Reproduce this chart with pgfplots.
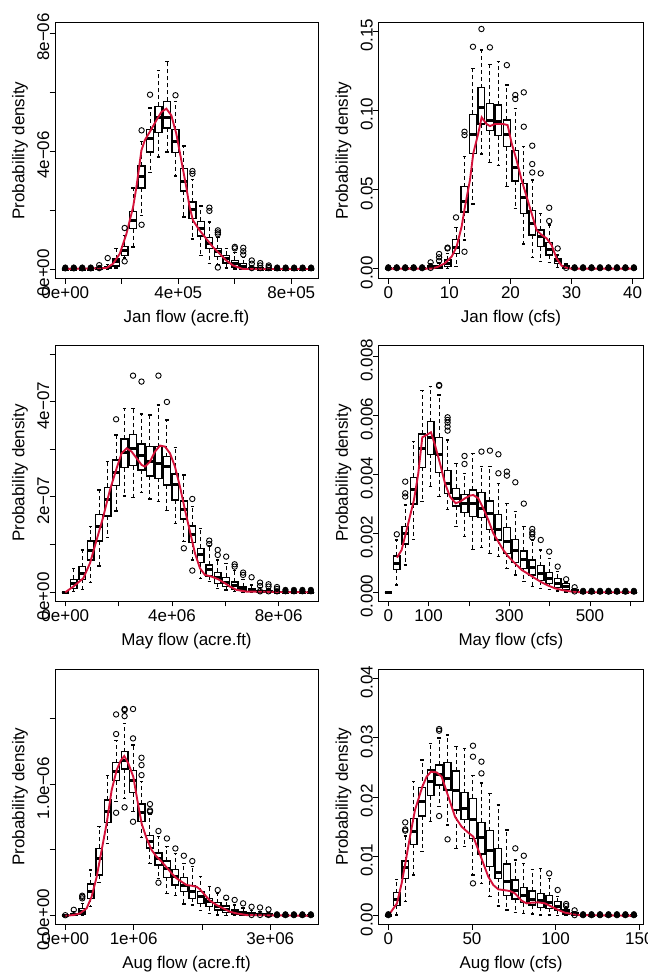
\documentclass[border=0pt]{standalone}
\usepackage{pgfplots}
\pgfplotsset{compat=1.18}
\usepgfplotslibrary{statistics}
\usepackage{fontspec}
\setmainfont{Liberation Sans}
\definecolor{dens}{RGB}{212,18,58}
\newcommand{\fs}{\fontsize{17bp}{20bp}\selectfont}
\newcommand{\bx}[7]{\addplot[bxs, boxplot prepared={draw direction=y, draw position=#1, lower whisker=#2, lower quartile=#3, median=#4, upper quartile=#5, upper whisker=#6}] coordinates {#7};}
\newcommand{\bxz}[3]{\addplot[bxs, mark=*, mark size=2.8bp, mark options={solid, fill=black, line width=0.5bp}, boxplot prepared={draw direction=y, draw position=#1, lower whisker=0, lower quartile=0, median=0, upper quartile=0, upper whisker=0}] coordinates {(0,#2)(0,#3)};}
\pgfplotsset{
  bxs/.style={black, line width=1.4bp, solid, mark=o, mark size=2.7bp,
    mark options={solid, line width=0.9bp, fill=none},
    boxplot/draw direction=y,
    boxplot/every median/.style={line width=3bp},
    boxplot/draw/lower whisker/.code={%
      \draw[dash pattern=on 4bp off 3bp, line width=1bp]
        (boxplot box cs:\pgfplotsboxplotvalue{lower quartile},0.5) --
        (boxplot box cs:\pgfplotsboxplotvalue{lower whisker},0.5);
      \draw[solid, line width=1.4bp]
        (boxplot whisker cs:\pgfplotsboxplotvalue{lower whisker},0) --
        (boxplot whisker cs:\pgfplotsboxplotvalue{lower whisker},1);},
    boxplot/draw/upper whisker/.code={%
      \draw[dash pattern=on 4bp off 3bp, line width=1bp]
        (boxplot box cs:\pgfplotsboxplotvalue{upper quartile},0.5) --
        (boxplot box cs:\pgfplotsboxplotvalue{upper whisker},0.5);
      \draw[solid, line width=1.4bp]
        (boxplot whisker cs:\pgfplotsboxplotvalue{upper whisker},0) --
        (boxplot whisker cs:\pgfplotsboxplotvalue{upper whisker},1);},
  },
  dline/.style={color=dens, line width=1.9bp, no marks, solid},
  rpanel/.style={scale only axis, axis line style={line width=0.9bp},
    tick align=outside, tick pos=left, major tick length=5.5bp,
    tick style={line width=0.9bp, black},
    xticklabel style={anchor=north, inner sep=0pt, font=\fs, yshift=-3bp},
    yticklabel style={rotate=90, anchor=south, inner sep=0pt, font=\fs, xshift=-4bp},
    label style={font=\fs},
    every axis x label/.style={at={(axis description cs:0.5,0)}, yshift=-40bp, anchor=center},
    every axis y label/.style={at={(axis description cs:0,0.5)}, xshift=-35bp, rotate=90, anchor=center},
    ylabel={Probability density}},
}
\begin{document}
\begin{tikzpicture}[font=\fs]
\path[use as bounding box] (0,0) rectangle (648bp,976bp);

% ---------------- Jan acre.ft  (x in 1e5, y in 1e-6)
\begin{axis}[rpanel, at={(55bp,697.7bp)}, anchor=south west, width=263bp, height=255.6bp,
  xmin=-0.365, xmax=8.945, ymin=-0.315, ymax=8.35,
  xtick={0,2,4,6,8}, xticklabels={0e+00,,4e+05,,8e+05},
  ytick={0,2,4,6,8}, yticklabels={0e+00,,4e−06,,8e−06},
  xlabel={Jan flow (acre.ft)},
  boxplot/box extend=0.24, boxplot/whisker extend=0.12]
\bxz{0}{0.02}{0.05}
\bxz{0.3}{0.02}{0.05}
\bxz{0.6}{0.02}{0.05}
\bxz{0.9}{0.02}{0.05}
\bx{1.2}{0}{0}{0.02}{0.06}{0.10}{(0,0.13)(0,0.03)}
\bx{1.5}{0}{0.01}{0.04}{0.08}{0.15}{(0,0.37)}
\bx{1.8}{0.03}{0.10}{0.24}{0.34}{0.69}{}
\bx{2.1}{0.37}{0.45}{0.63}{0.77}{1.14}{(0,1.39)(0,0.26)}
\bx{2.4}{0.75}{1.37}{1.63}{1.94}{2.75}{}
\bx{2.7}{1.82}{2.75}{3.12}{3.49}{4.33}{(0,4.70)(0,1.50)}
\bx{3.0}{3.27}{3.97}{4.44}{4.72}{5.46}{(0,5.91)}
\bx{3.3}{3.80}{4.62}{5.13}{5.51}{6.73}{}
\bx{3.6}{3.97}{4.78}{5.12}{5.68}{7.04}{}
\bx{3.9}{3.15}{3.94}{4.33}{4.72}{5.68}{(0,5.89)}
\bx{4.2}{1.76}{2.64}{2.95}{3.40}{4.17}{}
\bx{4.5}{1.02}{1.71}{2.01}{2.27}{3.04}{(0,3.32)(0,3.23)}
\bx{4.8}{0.46}{1.12}{1.37}{1.62}{2.14}{}
\bx{5.1}{0.18}{0.69}{0.86}{1.06}{1.59}{(0,2.08)(0,1.97)}
\bx{5.4}{0.15}{0.43}{0.58}{0.69}{1.06}{(0,1.31)(0,1.24)(0,1.18)(0,0.05)}
\bx{5.7}{0.03}{0.21}{0.35}{0.46}{0.69}{}
\bx{6.0}{0}{0.07}{0.18}{0.29}{0.55}{(0,0.75)(0,0.70)}
\bx{6.3}{0}{0}{0.07}{0.18}{0.40}{(0,0.72)(0,0.60)(0,0.49)}
\bx{6.6}{0}{0}{0.02}{0.05}{0.10}{(0,0.29)(0,0.18)(0,0.03)}
\bx{6.9}{0}{0}{0}{0.03}{0.06}{(0,0.20)(0,0.12)(0,0.03)}
\bx{7.2}{0}{0}{0}{0.02}{0.04}{(0,0.12)(0,0.07)(0,0.03)}
\bxz{7.5}{0.02}{0.05}
\bxz{7.8}{0.02}{0.05}
\bxz{8.1}{0.02}{0.05}
\bxz{8.4}{0.02}{0.05}
\bxz{8.7}{0.02}{0.05}
\addplot[dline] coordinates {(0,0) (1.459,0.034) (1.694,0.181) (1.929,0.520) (2.165,1.198) (2.400,2.102) (2.518,2.780) (2.694,4.023) (2.812,4.362) (2.988,4.644) (3.224,5.040) (3.400,5.322) (3.576,5.435) (3.753,5.209) (3.929,4.588) (4.106,3.684) (4.282,2.780) (4.400,2.102) (4.518,1.650) (4.753,1.311) (4.988,1.028) (5.224,0.746) (5.459,0.520) (5.694,0.294) (5.929,0.124) (6.282,0) (8.659,0)};
\end{axis}

% ---------------- Jan cfs  (y in 0.01)
\begin{axis}[rpanel, at={(378.5bp,697.7bp)}, anchor=south west, width=265bp, height=255.6bp,
  xmin=-1.60, xmax=41.77, ymin=-0.606, ymax=15.54,
  xtick={0,10,20,30,40}, xticklabels={0,10,20,30,40},
  ytick={0,5,10,15}, yticklabels={0.00,0.05,0.10,0.15},
  xlabel={Jan flow (cfs)},
  boxplot/box extend=1.1, boxplot/whisker extend=0.55]
\bxz{0}{0.03}{0.09}
\bxz{1.386}{0.03}{0.09}
\bxz{2.772}{0.03}{0.09}
\bxz{4.158}{0.03}{0.09}
\bxz{5.544}{0.03}{0.09}
\bx{6.93}{0}{0}{0.06}{0.19}{0.3}{(0,0.4)(0,0.05)}
\bx{8.316}{0}{0}{0.06}{0.19}{0.35}{(0,0.93)(0,0.72)(0,0.5)}
\bx{9.702}{0.02}{0.13}{0.34}{0.55}{0.97}{(0,1.33)(0,1.28)}
\bx{11.088}{0.13}{0.97}{1.35}{1.85}{2.59}{(0,3.24)}
\bx{12.474}{1.81}{3.58}{4.25}{5.18}{7.07}{(0,8.65)(0,8.44)(0,1.07)}
\bx{13.86}{4.08}{7.26}{8.48}{9.75}{12.65}{(0,14.02)}
\bx{15.246}{7.24}{9.14}{10.17}{11.43}{13.81}{(0,15.14)}
\bx{16.632}{6.72}{8.72}{9.39}{10.44}{12.91}{(0,13.98)}
\bx{18.018}{6.51}{8.40}{9.28}{10.34}{13.07}{}
\bx{19.404}{5.18}{7.71}{8.48}{9.39}{11.60}{(0,12.86)}
\bx{20.79}{3.81}{5.54}{6.38}{7.45}{10.13}{(0,10.97)(0,10.72)}
\bx{22.176}{1.56}{3.49}{4.51}{5.39}{7.71}{(0,11.14)(0,8.97)}
\bx{23.562}{0.69}{2.13}{2.86}{3.66}{5.60}{(0,7.77)(0,6.61)(0,6.08)}
\bx{24.948}{0.44}{1.39}{2.02}{2.44}{3.49}{(0,6.02)}
\bx{26.334}{0.40}{0.86}{1.24}{1.66}{2.76}{(0,3.85)(0,3.01)}
\bx{27.72}{0.06}{0.34}{0.51}{0.65}{0.86}{(0,1.28)}
\bx{29.106}{0}{0}{0.06}{0.19}{0.3}{(0,0.05)}
\bxz{30.492}{0.03}{0.09}
\bxz{31.878}{0.03}{0.09}
\bxz{33.264}{0.03}{0.09}
\bxz{34.65}{0.03}{0.09}
\bxz{36.036}{0.03}{0.09}
\bxz{37.422}{0.03}{0.09}
\bxz{38.808}{0.03}{0.09}
\bxz{40.194}{0.03}{0.09}
\addplot[dline] coordinates {(0,0) (7.09,0) (8.18,0.13) (9.27,0.34) (10.37,0.76) (11.18,1.39) (12.00,2.65) (12.55,3.92) (13.37,5.60) (13.91,7.28) (14.73,8.55) (15.28,9.56) (16.09,9.14) (16.64,9.01) (17.46,9.14) (18.00,9.14) (18.82,9.14) (19.53,9.07) (20.19,7.92) (21.00,6.86) (21.82,5.60) (22.64,4.55) (23.46,3.49) (24.28,2.44) (25.10,2.13) (25.91,1.92) (26.73,1.49) (27.55,0.65) (28.37,0.19) (29.19,0.06) (30.01,0) (40.26,0)};
\end{axis}

% ---------------- May acre.ft (x in 1e6, y in 1e-7)
\begin{axis}[rpanel, at={(55bp,375bp)}, anchor=south west, width=263bp, height=256bp,
  xmin=-0.386, xmax=9.475, ymin=-0.183, ymax=5.188,
  xtick={0,2,4,6,8}, xticklabels={0e+00,,4e+06,,8e+06},
  ytick={0,1,2,3,4,5}, yticklabels={0e+00,,2e−07,,4e−07,},
  xlabel={May flow (acre.ft)},
  boxplot/box extend=0.254, boxplot/whisker extend=0.127]
\bx{0}{0}{0}{0}{0}{0}{}
\bx{0.3175}{0.014}{0.084}{0.189}{0.273}{0.503}{}
\bx{0.635}{0.063}{0.273}{0.399}{0.538}{0.888}{}
\bx{0.9525}{0.210}{0.678}{0.867}{1.077}{1.378}{}
\bx{1.27}{0.552}{1.077}{1.378}{1.636}{2.147}{}
\bx{1.5875}{1.154}{1.601}{1.937}{2.203}{2.741}{}
\bx{1.905}{1.706}{2.238}{2.510}{2.776}{3.301}{(0,3.629)}
\bx{2.2225}{2.021}{2.615}{2.937}{3.217}{3.860}{}
\bx{2.54}{1.993}{2.657}{3.007}{3.315}{3.860}{(0,4.545)}
\bx{2.8575}{2.098}{2.566}{2.860}{3.112}{3.741}{(0,4.420)}
\bx{3.175}{1.958}{2.441}{2.741}{3.056}{3.720}{}
\bx{3.4925}{1.902}{2.392}{2.692}{3.056}{3.930}{(0,4.545)}
\bx{3.81}{1.713}{2.252}{2.636}{2.846}{3.615}{(0,3.993)}
\bx{4.1275}{1.448}{1.937}{2.252}{2.483}{3.042}{}
\bx{4.445}{1.063}{1.538}{1.741}{1.916}{2.462}{(0,0.923)}
\bx{4.7625}{0.678}{1.042}{1.217}{1.392}{1.797}{(0,1.958)(0,0.455)}
\bx{5.08}{0.294}{0.622}{0.783}{0.923}{1.343}{}
\bx{5.3975}{0.224}{0.343}{0.469}{0.573}{0.972}{(0,1.084)(0,1.014)}
\bx{5.715}{0.084}{0.189}{0.315}{0.420}{0.678}{(0,0.888)(0,0.783)}
\bx{6.0325}{0.049}{0.119}{0.210}{0.315}{0.608}{(0,0.748)}
\bx{6.35}{0.014}{0.063}{0.133}{0.217}{0.455}{(0,0.587)(0,0.538)}
\bx{6.6675}{0}{0.035}{0.077}{0.119}{0.273}{(0,0.413)(0,0.364)}
\bx{6.985}{0}{0.014}{0.035}{0.07}{0.154}{(0,0.315)}
\bx{7.3025}{0}{0}{0.014}{0.035}{0.10}{(0,0.203)(0,0.133)(0,0.02)}
\bx{7.62}{0}{0}{0.01}{0.03}{0.07}{(0,0.168)(0,0.12)(0,0.02)}
\bx{7.9375}{0}{0}{0}{0.02}{0.05}{(0,0.11)(0,0.07)(0,0.02)}
\bxz{8.255}{0.02}{0.05}
\bxz{8.5725}{0.02}{0.05}
\bxz{8.89}{0.02}{0.05}
\bxz{9.2075}{0.02}{0.05}
\addplot[dline] coordinates {(0,0) (0.30,0.119) (0.675,0.294) (0.925,0.608) (1.175,1.098) (1.425,1.587) (1.675,2.147) (1.925,2.601) (2.1125,2.916) (2.30,3.021) (2.4875,2.951) (2.675,2.811) (2.8625,2.671) (2.9875,2.636) (3.175,2.741) (3.3625,2.951) (3.55,3.077) (3.7375,3.056) (3.925,2.916) (4.1125,2.636) (4.30,2.217) (4.4875,1.727) (4.675,1.273) (4.8625,0.818) (5.05,0.503) (5.2375,0.364) (5.4875,0.329) (5.7375,0.273) (5.9875,0.189) (6.175,0.119) (6.425,0.049) (6.80,0.014) (9.20,0)};
\end{axis}

% ---------------- May cfs (x in 100, y in 1e-3)
\begin{axis}[rpanel, at={(378.5bp,375bp)}, anchor=south west, width=265bp, height=256bp,
  xmin=-0.243, xmax=6.328, ymin=-0.295, ymax=8.383,
  xtick={0,1,2,3,4,5,6}, xticklabels={0,100,,300,,500,},
  ytick={0,2,4,6,8}, yticklabels={0.000,0.002,0.004,0.006,0.008},
  xlabel={May flow (cfs)},
  boxplot/box extend=0.168, boxplot/whisker extend=0.084]
\bx{0}{0}{0}{0}{0}{0}{}
\bx{0.21}{0.249}{0.780}{0.983}{1.232}{1.774}{(0,1.966)}
\bx{0.42}{0.927}{1.638}{1.977}{2.226}{2.960}{(0,3.751)(0,3.356)(0,3.243)}
\bx{0.63}{1.797}{2.994}{3.492}{3.898}{5.107}{}
\bx{0.84}{3.073}{4.237}{4.881}{5.367}{6.836}{}
\bx{1.05}{3.582}{4.678}{5.254}{5.785}{6.972}{}
\bx{1.26}{3.243}{4.056}{4.655}{5.254}{6.689}{(0,7.028)(0,7.0)}
\bx{1.47}{2.814}{3.356}{3.695}{4.124}{5.164}{(0,5.932)(0,5.842)(0,5.751)(0,5.616)(0,5.480)}
\bx{1.68}{2.226}{2.927}{3.186}{3.525}{4.373}{}
\bx{1.89}{1.887}{2.701}{3.017}{3.322}{4.034}{(0,4.621)(0,4.350)}
\bx{2.10}{1.458}{2.565}{3.017}{3.469}{4.712}{}
\bx{2.31}{1.525}{2.542}{2.847}{3.379}{4.260}{(0,4.768)}
\bx{2.52}{1.322}{2.136}{2.661}{3.096}{4.260}{(0,4.802)}
\bx{2.73}{1.209}{1.774}{2.113}{2.644}{3.695}{(0,4.678)(0,4.034)}
\bx{2.94}{0.814}{1.322}{1.718}{2.203}{3.017}{(0,4.090)(0,3.955)}
\bx{3.15}{0.588}{1.006}{1.401}{1.797}{2.734}{(0,3.729)}
\bx{3.36}{0.362}{0.814}{1.119}{1.401}{2.226}{(0,3.006)}
\bx{3.57}{0.192}{0.588}{0.836}{1.096}{1.774}{(0,2.147)(0,2.034)(0,1.966)(0,1.864)}
\bx{3.78}{0.136}{0.395}{0.644}{0.904}{1.435}{(0,1.774)}
\bx{3.99}{0.102}{0.305}{0.475}{0.667}{1.153}{(0,1.379)}
\bx{4.20}{0.05}{0.170}{0.305}{0.475}{0.701}{(0,0.870)}
\bx{4.41}{0.01}{0.10}{0.20}{0.305}{0.35}{(0,0.441)}
\bx{4.62}{0}{0.02}{0.05}{0.10}{0.13}{(0,0.17)(0,0.03)}
\bxz{4.83}{0.02}{0.05}
\bxz{5.04}{0.02}{0.05}
\bxz{5.25}{0.02}{0.05}
\bxz{5.46}{0.02}{0.05}
\bxz{5.67}{0.02}{0.05}
\bxz{5.88}{0.02}{0.05}
\bxz{6.09}{0.02}{0.05}
\addplot[dline] coordinates {(0.215,1.175) (0.331,1.435) (0.455,2.113) (0.636,3.130) (0.744,4.034) (0.843,5.254) (0.950,5.333) (1.058,5.424) (1.157,4.994) (1.281,4.373) (1.405,3.695) (1.529,3.243) (1.669,3.017) (1.777,3.073) (1.901,3.186) (2.025,3.277) (2.107,3.299) (2.231,3.186) (2.355,2.847) (2.479,2.452) (2.603,2.0) (2.727,1.718) (2.851,1.435) (2.975,1.209) (3.140,0.983) (3.306,0.757) (3.471,0.621) (3.636,0.475) (3.802,0.339) (3.967,0.226) (4.132,0.136) (4.298,0.079) (4.545,0.023) (4.793,0) (6.099,0)};
\end{axis}

% ---------------- Aug acre.ft (x in 1e6, y in 1e-6)
\begin{axis}[rpanel, at={(55bp,51.7bp)}, anchor=south west, width=263bp, height=255.3bp,
  xmin=-0.151, xmax=3.698, ymin=-0.065, ymax=1.874,
  xtick={0,1,2,3}, xticklabels={0e+00,1e+06,,3e+06},
  ytick={0,0.5,1.0,1.5}, yticklabels={0.0e+00,,1.0e−06,},
  xlabel={Aug flow (acre.ft)},
  boxplot/box extend=0.099, boxplot/whisker extend=0.05]
\bx{0}{0}{0}{0}{0}{0}{(0,0.004)}
\bx{0.1239}{0}{0}{0.008}{0.018}{0.03}{(0,0.045)}
\bx{0.2478}{0}{0.013}{0.030}{0.056}{0.094}{(0,0.152)(0,0.144)(0,0.132)}
\bx{0.3717}{0.068}{0.132}{0.182}{0.241}{0.347}{}
\bx{0.4956}{0.251}{0.309}{0.435}{0.511}{0.676}{}
\bx{0.6195}{0.549}{0.709}{0.790}{0.878}{1.063}{}
\bx{0.7434}{0.866}{1.025}{1.094}{1.162}{1.33}{(0,1.529)(0,1.380)(0,0.782)}
\bx{0.8673}{0.891}{1.114}{1.177}{1.246}{1.461}{(0,1.570)(0,1.562)(0,1.516)(0,0.823)}
\bx{0.9912}{0.790}{0.934}{1.025}{1.101}{1.296}{(0,1.570)(0,1.347)(0,0.714)}
\bx{1.1151}{0.595}{0.714}{0.782}{0.848}{1.018}{(0,1.200)(0,1.144)(0,1.068)}
\bx{1.239}{0.397}{0.516}{0.562}{0.608}{0.772}{(0,0.848)(0,0.800)(0,0.790)}
\bx{1.3629}{0.284}{0.385}{0.435}{0.478}{0.600}{(0,0.643)(0,0.251)}
\bx{1.4868}{0.170}{0.291}{0.359}{0.415}{0.524}{(0,0.587)}
\bx{1.6107}{0.152}{0.233}{0.296}{0.352}{0.473}{(0,0.511)}
\bx{1.7346}{0.089}{0.182}{0.233}{0.291}{0.397}{(0,0.456)}
\bx{1.8585}{0.081}{0.132}{0.182}{0.228}{0.372}{(0,0.415)}
\bx{1.9824}{0.038}{0.094}{0.144}{0.182}{0.296}{}
\bx{2.1063}{0.018}{0.068}{0.106}{0.132}{0.220}{}
\bx{2.2302}{0.005}{0.043}{0.073}{0.099}{0.170}{(0,0.195)}
\bx{2.3541}{0}{0.023}{0.048}{0.073}{0.124}{(0,0.137)}
\bx{2.478}{0}{0.013}{0.030}{0.048}{0.081}{(0,0.12)}
\bx{2.6019}{0}{0.005}{0.015}{0.03}{0.06}{(0,0.094)}
\bx{2.7258}{0}{0}{0.01}{0.02}{0.04}{(0,0.068)(0,0.006)}
\bx{2.8497}{0}{0}{0.008}{0.016}{0.03}{(0,0.063)(0,0.006)}
\bx{2.9736}{0}{0}{0.005}{0.012}{0.025}{(0,0.048)(0,0.006)}
\bxz{3.0975}{0.004}{0.011}
\bxz{3.2214}{0.004}{0.011}
\bxz{3.3453}{0.004}{0.011}
\bxz{3.4692}{0.004}{0.011}
\bxz{3.5931}{0.004}{0.011}
\addplot[dline] coordinates {(0,0) (0.117,0.005) (0.215,0.018) (0.312,0.056) (0.385,0.144) (0.459,0.296) (0.532,0.499) (0.605,0.701) (0.678,0.954) (0.751,1.106) (0.810,1.177) (0.863,1.213) (0.922,1.157) (0.995,1.056) (1.054,0.878) (1.117,0.701) (1.190,0.587) (1.263,0.499) (1.337,0.448) (1.410,0.410) (1.483,0.367) (1.556,0.322) (1.629,0.284) (1.702,0.258) (1.776,0.233) (1.849,0.228) (1.922,0.220) (1.971,0.200) (2.044,0.157) (2.117,0.114) (2.215,0.081) (2.312,0.056) (2.410,0.030) (2.507,0.018) (2.654,0.005) (3.590,0)};
\end{axis}

% ---------------- Aug cfs (x in 10, y in 0.01)
\begin{axis}[rpanel, at={(378.5bp,51.7bp)}, anchor=south west, width=265bp, height=255.3bp,
  xmin=-0.586, xmax=15.25, ymin=-0.145, ymax=4.158,
  xtick={0,5,10,15}, xticklabels={0,50,100,150},
  ytick={0,1,2,3,4}, yticklabels={0.00,0.01,0.02,0.03,0.04},
  xlabel={Aug flow (cfs)},
  boxplot/box extend=0.405, boxplot/whisker extend=0.202]
\bxz{0}{0.008}{0.025}
\bx{0.506}{0.011}{0.174}{0.275}{0.388}{0.612}{}
\bx{1.012}{0.236}{0.624}{0.815}{0.921}{1.343}{(0,1.573)(0,1.455)(0,1.433)}
\bx{1.518}{0.685}{1.202}{1.416}{1.640}{2.258}{}
\bx{2.024}{1.079}{1.680}{1.921}{2.157}{2.624}{}
\bx{2.530}{1.584}{2.022}{2.258}{2.455}{2.904}{}
\bx{3.036}{1.837}{2.202}{2.388}{2.539}{2.994}{(0,3.146)(0,3.118)(0,1.680)}
\bx{3.542}{1.528}{2.118}{2.315}{2.579}{3.045}{(0,1.287)}
\bx{4.048}{1.135}{1.781}{2.118}{2.438}{2.848}{}
\bx{4.554}{1.163}{1.624}{1.809}{2.073}{2.820}{}
\bx{5.060}{0.685}{1.303}{1.618}{1.978}{2.360}{(0,2.865)(0,2.680)(0,0.545)}
\bx{5.566}{0.545}{1.039}{1.320}{1.573}{2.236}{(0,2.596)(0,2.399)}
\bx{6.072}{0.320}{0.826}{1.107}{1.433}{2.062}{}
\bx{6.578}{0.163}{0.629}{0.730}{1.135}{1.865}{}
\bx{7.084}{0.096}{0.337}{0.573}{0.871}{1.444}{}
\bx{7.590}{0.051}{0.281}{0.433}{0.601}{0.938}{(0,1.135)}
\bx{8.096}{0.04}{0.219}{0.348}{0.478}{0.882}{(0,1.011)}
\bx{8.602}{0.03}{0.18}{0.275}{0.416}{0.781}{}
\bx{9.108}{0.01}{0.14}{0.253}{0.376}{0.798}{}
\bx{9.614}{0.01}{0.124}{0.225}{0.337}{0.629}{(0,0.713)}
\bx{10.12}{0}{0.096}{0.163}{0.236}{0.32}{(0,0.433)}
\bx{10.626}{0}{0.028}{0.06}{0.096}{0.13}{(0,0.197)(0,0.163)}
\bx{11.132}{0}{0}{0.02}{0.05}{0.07}{(0,0.09)(0,0.01)}
\bxz{11.638}{0.008}{0.025}
\bxz{12.144}{0.008}{0.025}
\bxz{12.65}{0.008}{0.025}
\bxz{13.156}{0.008}{0.025}
\bxz{13.662}{0.008}{0.025}
\bxz{14.168}{0.008}{0.025}
\bxz{14.674}{0.008}{0.025}
\addplot[dline] coordinates {(0,0) (0.518,0.208) (0.797,0.545) (1.016,0.882) (1.295,1.331) (1.594,1.781) (2.032,2.174) (2.291,2.343) (2.550,2.427) (2.888,2.416) (3.187,2.343) (3.586,2.006) (3.984,1.669) (4.382,1.500) (4.781,1.399) (5.080,1.331) (5.378,1.107) (5.677,0.882) (5.976,0.657) (6.275,0.517) (6.574,0.444) (6.873,0.433) (7.271,0.416) (7.570,0.376) (7.968,0.253) (8.267,0.208) (8.566,0.219) (8.964,0.225) (9.363,0.208) (9.761,0.152) (10.159,0.096) (10.558,0.051) (11.355,0.011) (14.701,0)};
\end{axis}
\end{tikzpicture}
\end{document}
